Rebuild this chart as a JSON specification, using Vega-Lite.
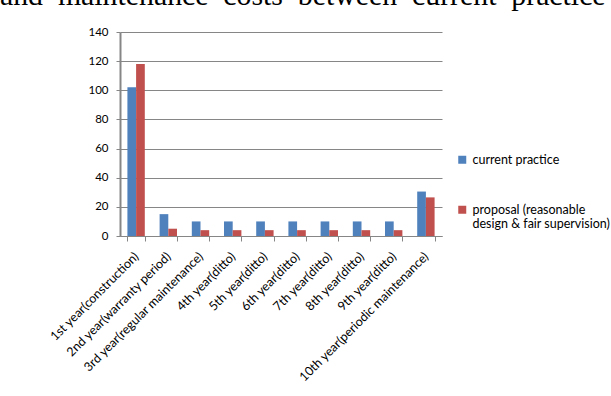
{
  "$schema": "https://vega.github.io/schema/vega-lite/v6.json",
  "autosize": "none",
  "width": 322,
  "height": 204,
  "padding": {"left": 120, "top": 32, "right": 169, "bottom": 160},
  "background": "white",
  "title": {
    "text": "and\u00a0\u00a0maintenance\u00a0\u00a0costs\u00a0\u00a0between\u00a0\u00a0current\u00a0\u00a0practice",
    "anchor": "start",
    "frame": "group",
    "orient": "top",
    "font": "Liberation Serif",
    "fontSize": 29.8,
    "fontWeight": "normal",
    "color": "#000000",
    "baseline": "alphabetic",
    "dx": -120,
    "offset": -9
  },
  "data": {
    "values": [
      {"year": "1st year(construction)", "scenario": "current practice", "cost": 102},
      {"year": "1st year(construction)", "scenario": "proposal (reasonable design & fair supervision)", "cost": 118},
      {"year": "2nd year(warranty period)", "scenario": "current practice", "cost": 15},
      {"year": "2nd year(warranty period)", "scenario": "proposal (reasonable design & fair supervision)", "cost": 5},
      {"year": "3rd year(regular maintenance)", "scenario": "current practice", "cost": 10},
      {"year": "3rd year(regular maintenance)", "scenario": "proposal (reasonable design & fair supervision)", "cost": 4},
      {"year": "4th year(ditto)", "scenario": "current practice", "cost": 10},
      {"year": "4th year(ditto)", "scenario": "proposal (reasonable design & fair supervision)", "cost": 4},
      {"year": "5th year(ditto)", "scenario": "current practice", "cost": 10},
      {"year": "5th year(ditto)", "scenario": "proposal (reasonable design & fair supervision)", "cost": 4},
      {"year": "6th year(ditto)", "scenario": "current practice", "cost": 10},
      {"year": "6th year(ditto)", "scenario": "proposal (reasonable design & fair supervision)", "cost": 4},
      {"year": "7th year(ditto)", "scenario": "current practice", "cost": 10},
      {"year": "7th year(ditto)", "scenario": "proposal (reasonable design & fair supervision)", "cost": 4},
      {"year": "8th year(ditto)", "scenario": "current practice", "cost": 10},
      {"year": "8th year(ditto)", "scenario": "proposal (reasonable design & fair supervision)", "cost": 4},
      {"year": "9th year(ditto)", "scenario": "current practice", "cost": 10},
      {"year": "9th year(ditto)", "scenario": "proposal (reasonable design & fair supervision)", "cost": 4},
      {"year": "10th year(periodic maintenance)", "scenario": "current practice", "cost": 30.5},
      {"year": "10th year(periodic maintenance)", "scenario": "proposal (reasonable design & fair supervision)", "cost": 26.5}
    ]
  },
  "mark": {"type": "bar"},
  "encoding": {
    "x": {
      "field": "year",
      "type": "nominal",
      "sort": null,
      "title": null,
      "scale": {"paddingInner": 0.46, "paddingOuter": 0.23},
      "axis": {
        "labelAngle": -45,
        "labelAlign": "right",
        "labelBaseline": "middle",
        "labelFont": "Lato",
        "labelFontSize": 12.5,
        "labelColor": "#000000",
        "labelPadding": 13,
        "tickBand": "extent",
        "tickColor": "#868686",
        "tickSize": 5,
        "domainColor": "#868686",
        "labelOverlap": false,
        "labelLimit": 250
      }
    },
    "xOffset": {"field": "scenario", "type": "nominal"},
    "y": {
      "field": "cost",
      "type": "quantitative",
      "title": null,
      "scale": {"domain": [0, 140]},
      "axis": {
        "values": [0, 20, 40, 60, 80, 100, 120, 140],
        "labelFont": "Lato",
        "labelFontSize": 11.5,
        "labelColor": "#000000",
        "labelPadding": 8,
        "tickColor": "#868686",
        "tickSize": 4,
        "domainColor": "#868686",
        "gridColor": "#868686",
        "domainWidth": 2
      }
    },
    "color": {
      "field": "scenario",
      "type": "nominal",
      "scale": {"range": ["#4F81BD", "#C0504D"]},
      "legend": {
        "title": null,
        "orient": "none",
        "legendX": 336,
        "legendY": 121.5,
        "symbolType": "square",
        "symbolSize": 64,
        "symbolStrokeWidth": 0,
        "labelFont": "Lato",
        "labelFontSize": 12.5,
        "labelColor": "#000000",
        "labelLimit": 250,
        "labelBaseline": "middle",
        "labelOffset": 4,
        "rowPadding": 37,
        "labelExpr": "datum.label == 'current practice' ? datum.label : ['proposal (reasonable', 'design & fair supervision)']"
      }
    }
  },
  "config": {
    "view": {"stroke": null}
  }
}
